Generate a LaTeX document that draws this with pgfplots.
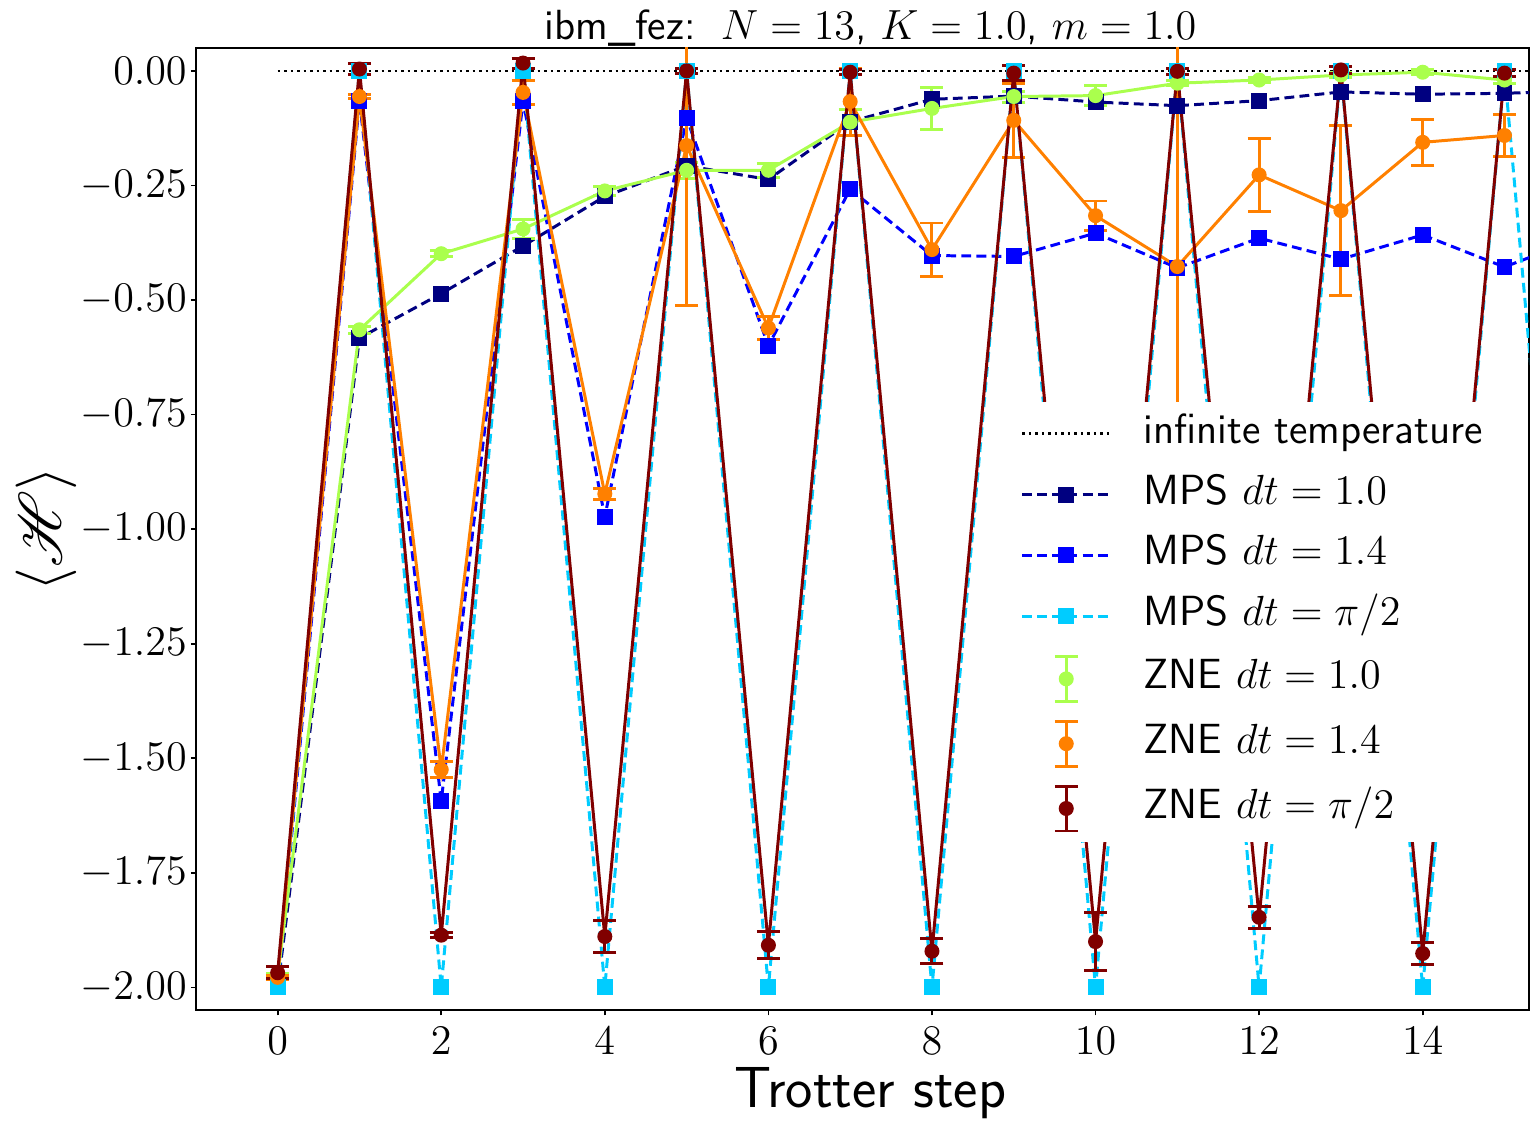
\documentclass[border=0pt]{standalone}
\usepackage{pgfplots}
\pgfplotsset{compat=1.18}
\usepackage{pgfplotstable}
\usepackage{mathrsfs}

\definecolor{cNavy}{RGB}{0,0,128}
\definecolor{cBlue}{RGB}{0,0,255}
\definecolor{cCyan}{RGB}{0,204,255}
\definecolor{cGreen}{RGB}{170,255,77}
\definecolor{cOrange}{RGB}{255,128,0}
\definecolor{cMaroon}{RGB}{128,0,0}

% MPS reference curves
\pgfplotstableread{
x y
0 -2.000
1 -0.583
2 -0.486
3 -0.382
4 -0.274
5 -0.207
6 -0.237
7 -0.111
8 -0.062
9 -0.055
10 -0.068
11 -0.076
12 -0.065
13 -0.046
14 -0.051
15 -0.049
16 -0.043
}\mpsA
\pgfplotstableread{
x y
0 -2.000
1 -0.065
2 -1.594
3 -0.066
4 -0.973
5 -0.103
6 -0.600
7 -0.258
8 -0.403
9 -0.405
10 -0.354
11 -0.430
12 -0.365
13 -0.411
14 -0.358
15 -0.428
16 -0.360
}\mpsB
\pgfplotstableread{
x y
0 -2.0
1 0.0
2 -2.0
3 0.0
4 -2.0
5 0.0
6 -2.0
7 0.0
8 -2.0
9 0.0
10 -2.0
11 0.0
12 -2.0
13 0.0
14 -2.0
15 0.0
16 -2.0
}\mpsC

% ZNE results with errors
\pgfplotstableread{
x y e
0 -1.975 0.005
1 -0.565 0.008
2 -0.399 0.006
3 -0.345 0.020
4 -0.262 0.010
5 -0.217 0.018
6 -0.217 0.015
7 -0.112 0.028
8 -0.082 0.045
9 -0.056 0.012
10 -0.054 0.022
11 -0.027 0.006
12 -0.020 0.006
13 -0.009 0.006
14 -0.003 0.005
15 -0.020 0.008
}\zneA
\pgfplotstableread{
x y e
0 -1.978 0.005
1 -0.056 0.004
2 -1.525 0.017
3 -0.047 0.026
4 -0.923 0.012
5 -0.163 0.349
6 -0.561 0.025
7 -0.067 0.073
8 -0.390 0.058
9 -0.108 0.081
10 -0.316 0.032
11 -0.427 0.600
12 -0.227 0.080
13 -0.305 0.185
14 -0.156 0.050
15 -0.141 0.045
}\zneB
\pgfplotstableread{
x y e
0 -1.968 0.013
1 0.004 0.011
2 -1.886 0.005
3 0.017 0.011
4 -1.889 0.035
5 0.000 0.005
6 -1.908 0.029
7 -0.003 0.006
8 -1.921 0.027
9 -0.005 0.016
10 -1.900 0.064
11 -0.001 0.006
12 -1.847 0.024
13 0.002 0.008
14 -1.926 0.024
15 -0.005 0.008
}\zneC

\pgfplotsset{
  mps/.style={#1, line width=0.85pt, dash pattern=on 2.8pt off 1.5pt,
    mark=square*, mark size=0.65mm, mark options={solid, fill=#1, draw=#1}},
  zneline/.style={#1, line width=0.85pt, solid, no marks, forget plot},
  zne/.style={#1, only marks, mark=*, mark size=0.68mm,
    mark options={solid, fill=#1, draw=#1},
    error bars/.cd, y dir=both, y explicit,
    error bar style={#1, line width=0.85pt, solid},
    error mark options={#1, rotate=90, line width=0.85pt, mark size=1.15mm},
    /pgfplots/.cd,
    legend image code/.code={
      \draw[#1, line width=0.85pt] (0.44cm,-0.225cm) -- (0.44cm,0.225cm)
        (0.325cm,0.225cm) -- (0.555cm,0.225cm)
        (0.325cm,-0.225cm) -- (0.555cm,-0.225cm);
      \fill[#1] (0.44cm,0cm) circle (0.68mm);
      \path (1.13cm,0cm);}},
}

\begin{document}
\begin{tikzpicture}
\begin{axis}[
  name=ax,
  scale only axis,
  width=133.4mm, height=96.3mm,
  xmin=-1, xmax=15.3, ymin=-2.05, ymax=0.05,
  xtick={0,2,4,6,8,10,12,14},
  ytick={-2,-1.75,-1.5,-1.25,-1,-0.75,-0.5,-0.25,0},
  yticklabel style={/pgf/number format/fixed, /pgf/number format/fixed zerofill,
    /pgf/number format/precision=2, inner xsep=1pt},
  scaled y ticks=false,
  ticklabel style={font=\fontsize{12.5}{14}\selectfont},
  tick align=outside, tick pos=left,
  major tick length=0.5mm,
  axis line style={line width=0.5pt},
  every tick/.style={black, line width=0.5pt},
  every axis title shift=0pt,
  title={\sffamily ibm\_fez: \,$N = 13$, $K = 1.0$, $m = 1.0$},
  title style={at={(axis description cs:0.506,1.0083)}, anchor=base, yshift=0pt,
    font=\fontsize{12}{14}\selectfont},
  xlabel={\sffamily Trotter step},
  xlabel style={at={(axis description cs:0.506,-0.1008)}, anchor=base,
    font=\fontsize{16.5}{18}\selectfont},
  ylabel={$\langle \mathscr{H} \rangle$},
  ylabel style={at={(axis description cs:-0.101,0.5)}, anchor=base,
    font=\fontsize{16.5}{18}\selectfont},
  legend cell align=left,
  legend image code/.code={
    \draw[mark repeat=2, mark phase=2, #1] plot coordinates {(0cm,0cm) (0.44cm,0cm) (0.88cm,0cm)};
    \path (1.13cm,0cm);},
  legend style={at={(0.607,0.633)}, anchor=north west, draw=none, fill=white,
    font=\fontsize{12}{14}\selectfont\sffamily,
    inner xsep=1.5mm, inner ysep=1mm, row sep=4.8pt,
    nodes={inner ysep=0pt, text height=9pt, text depth=3.5pt}},
]
\addplot[black, line width=0.75pt, dash pattern=on 0.75pt off 1.1pt] coordinates {(0,0) (16,0)};
\addlegendentry{infinite temperature}
\addplot[mps=cNavy] table[x=x, y=y] {\mpsA};
\addlegendentry{MPS $dt = 1.0$}
\addplot[mps=cBlue] table[x=x, y=y] {\mpsB};
\addlegendentry{MPS $dt = 1.4$}
\addplot[mps=cCyan] table[x=x, y=y] {\mpsC};
\addlegendentry{MPS $dt = \pi/2$}
\addplot[zneline=cGreen] table[x=x, y=y] {\zneA};
\addplot[zne=cGreen] table[x=x, y=y, y error=e] {\zneA};
\addlegendentry{ZNE $dt = 1.0$}
\addplot[zneline=cOrange] table[x=x, y=y] {\zneB};
\addplot[zne=cOrange] table[x=x, y=y, y error=e] {\zneB};
\addlegendentry{ZNE $dt = 1.4$}
\addplot[zneline=cMaroon] table[x=x, y=y] {\zneC};
\addplot[zne=cMaroon] table[x=x, y=y, y error=e] {\zneC};
\addlegendentry{ZNE $dt = \pi/2$}
\end{axis}
\pgfresetboundingbox
\path[use as bounding box] ([xshift=-19.6mm, yshift=-11.1mm]ax.south west)
  rectangle ([xshift=0.1mm, yshift=4.8mm]ax.north east);
\end{tikzpicture}
\end{document}
